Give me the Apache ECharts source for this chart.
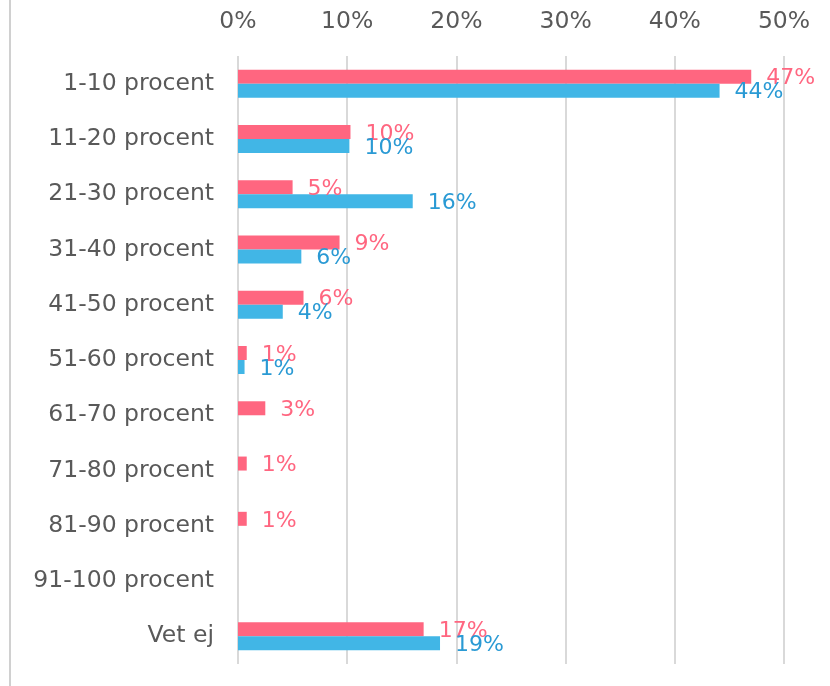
<!DOCTYPE html>
<html>
<head>
<meta charset="utf-8">
<script src="https://cdn.jsdelivr.net/npm/echarts@6/dist/echarts.min.js"></script>
<style>
html, body { margin: 0; padding: 0; background: #fff; }
#chart { width: 830px; height: 686px; }
</style>
</head>
<body>
<div id="chart"></div>
<script>
// categories, top to bottom
var categories = ['1-10 procent', '11-20 procent', '21-30 procent', '31-40 procent',
    '41-50 procent', '51-60 procent', '61-70 procent', '71-80 procent',
    '81-90 procent', '91-100 procent', 'Vet ej'];
// values in percent
var pinkValues = [47.0, 10.3, 5.0, 9.3, 6.0, 0.8, 2.5, 0.8, 0.8, null, 17.0];
var blueValues = [44.1, 10.2, 16.0, 5.8, 4.1, 0.6, null, null, null, null, 18.5];
var xTicks = [0, 10, 20, 30, 40, 50];

var font = 'DejaVu Sans, Verdana, sans-serif';

function pctLabel(p) {
    return Math.round(p.value) + '%';
}

var chart = echarts.init(document.getElementById('chart'));
chart.setOption({
    animation: false,
    grid: { left: 238, right: 46, top: 56, bottom: 22 },
    graphic: [{
        type: 'line',
        shape: { x1: 10, y1: 0, x2: 10, y2: 686 },
        style: { stroke: '#d0d0d0', lineWidth: 2 }
    }],
    xAxis: {
        type: 'value',
        position: 'top',
        min: xTicks[0],
        max: xTicks[xTicks.length - 1],
        interval: 10,
        axisLine: { show: false },
        axisTick: { show: false },
        axisLabel: {
            formatter: '{value}%',
            color: '#595959',
            fontFamily: font,
            fontSize: 23.5,
            margin: 22
        },
        splitLine: { lineStyle: { color: '#d9d9d9', width: 2 } }
    },
    yAxis: {
        type: 'category',
        inverse: true,
        data: categories,
        axisLine: { show: false },
        axisTick: { show: false },
        axisLabel: {
            color: '#595959',
            fontFamily: font,
            fontSize: 23.5,
            margin: 24
        }
    },
    series: [{
        name: 'pink',
        type: 'bar',
        data: pinkValues,
        barWidth: 14,
        barGap: '0%',
        itemStyle: { color: '#ff6680' },
        label: {
            show: true,
            position: 'right',
            distance: 15,
            offset: [0, 2],
            formatter: pctLabel,
            color: '#ff6680',
            fontFamily: font,
            fontSize: 22
        }
    }, {
        name: 'blue',
        type: 'bar',
        data: blueValues,
        barWidth: 14,
        barGap: '0%',
        itemStyle: { color: '#41b6e6' },
        label: {
            show: true,
            position: 'right',
            distance: 15,
            offset: [0, 2],
            formatter: pctLabel,
            color: '#2a9ad4',
            fontFamily: font,
            fontSize: 22
        }
    }]
});
</script>
</body>
</html>
